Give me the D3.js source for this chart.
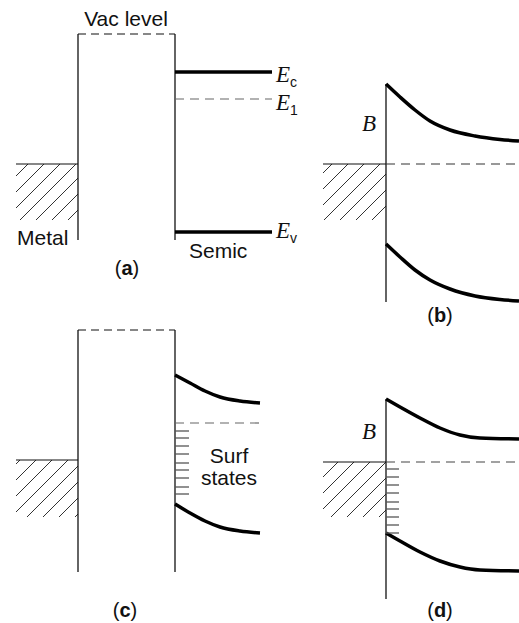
<!DOCTYPE html>
<html>
<head>
<meta charset="utf-8">
<script src="https://cdn.jsdelivr.net/npm/d3@7"></script>
<style>
  body { margin: 0; background: #fff; }
  text { font-family: "Liberation Sans", Arial, sans-serif; fill: #111; }
  .math { font-family: "Liberation Serif", "DejaVu Serif", serif; font-style: italic; }
</style>
</head>
<body>
<div id="chart"></div>
<script>
// Values, in figure units (x across, energy downward on the page)

// vertical walls: x, top, bottom
const walls = [
    [78, 34, 240], [175, 34, 240], [386, 84, 302],
    [78, 330, 572], [175, 330, 572], [386, 399, 599]
];
// vacuum level (dashed top of the gap): x0, x1, level
const vacLevels = [[78, 175, 34], [78, 175, 330]];
// metal: x0, x1, Fermi level, bottom of hatch
const metals = [[16, 78, 164, 220], [323, 386, 164, 220], [16, 78, 460, 517], [323, 386, 462, 517]];
// flat bands of panel (a): x0, x1, level
const flatBands = [[175, 272, 72], [175, 272, 232]];
// dashed levels (E1 and Fermi levels): x0, x1, level, tone
const dashedLevels = [[175, 272, 99, "#666"], [386, 519, 164, "#333"], [175, 260, 423, "#666"], [386, 519, 462, "#444"]];

// bent bands
const bandBc = [[386, 84], [400, 97], [415, 110], [430, 121], [450, 130], [475, 136], [500, 139.5], [519, 141]];
const bandBv = [[386, 244], [400, 257], [415, 270], [430, 280], [450, 289], [475, 296], [500, 299.5], [519, 301]];
const bandCc = [[175, 375], [190, 383], [205, 391], [220, 397], [240, 401], [260, 403]];
const bandCv = [[175, 504], [190, 513], [205, 521], [220, 527], [240, 531], [260, 533]];
const bandDc = [[386, 399], [400, 407], [420, 418], [440, 428], [460, 435], [480, 438], [519, 439]];
const bandDv = [[386, 533], [400, 541], [420, 552], [440, 561], [460, 567], [480, 570], [519, 571]];

// surface states: levels
const surfC = [431, 438, 446, 454, 463, 470, 478, 487, 494];
const surfD = [469, 477, 485, 493, 502, 509, 517, 525, 533];
const surfX = [[175, 189], [386, 399]];

const svgWidth = 519;
const svgHeight = 623;

const x = d3.scaleLinear().domain([0, 519]).range([0, svgWidth]);
const y = d3.scaleLinear().domain([0, 623]).range([0, svgHeight]);

const svg = d3.select("#chart").append("svg")
    .attr("width", svgWidth)
    .attr("height", svgHeight);

// hatch pattern for the filled metal states
const defs = svg.append("defs");
const pat = defs.append("pattern")
    .attr("id", "hatch")
    .attr("patternUnits", "userSpaceOnUse")
    .attr("width", 16)
    .attr("height", 16);
pat.append("path")
    .attr("d", "M0,16 L16,0 M-4,4 L4,-4 M12,20 L20,12")
    .attr("stroke", "#333")
    .attr("stroke-width", 1);

// metal blocks
svg.selectAll(".metal")
    .data(metals)
    .enter().append("rect")
    .attr("x", d => x(d[0]))
    .attr("y", d => y(d[2]))
    .attr("width", d => x(d[1]) - x(d[0]))
    .attr("height", d => y(d[3]) - y(d[2]))
    .attr("fill", "url(#hatch)");

svg.selectAll(".fermi")
    .data(metals)
    .enter().append("line")
    .attr("x1", d => x(d[0]))
    .attr("x2", d => x(d[1]))
    .attr("y1", d => y(d[2]))
    .attr("y2", d => y(d[2]))
    .attr("stroke", "#111")
    .attr("stroke-width", 1.2);

// walls
svg.selectAll(".wall")
    .data(walls)
    .enter().append("line")
    .attr("x1", d => x(d[0]))
    .attr("x2", d => x(d[0]))
    .attr("y1", d => y(d[1]))
    .attr("y2", d => y(d[2]))
    .attr("stroke", "#111")
    .attr("stroke-width", 1.3);

// vacuum level
svg.selectAll(".vac")
    .data(vacLevels)
    .enter().append("line")
    .attr("x1", d => x(d[0]))
    .attr("x2", d => x(d[1]))
    .attr("y1", d => y(d[2]))
    .attr("y2", d => y(d[2]))
    .attr("stroke", "#111")
    .attr("stroke-width", 1.2)
    .attr("stroke-dasharray", "8,5");

// dashed levels
svg.selectAll(".dash")
    .data(dashedLevels)
    .enter().append("line")
    .attr("x1", d => x(d[0]))
    .attr("x2", d => x(d[1]))
    .attr("y1", d => y(d[2]))
    .attr("y2", d => y(d[2]))
    .attr("stroke", d => d[3])
    .attr("stroke-width", 1.2)
    .attr("stroke-dasharray", "9,6");

// flat bands
svg.selectAll(".flat")
    .data(flatBands)
    .enter().append("line")
    .attr("x1", d => x(d[0]))
    .attr("x2", d => x(d[1]))
    .attr("y1", d => y(d[2]))
    .attr("y2", d => y(d[2]))
    .attr("stroke", "#000")
    .attr("stroke-width", 3.5);

// bent bands
const line = d3.line()
    .x(d => x(d[0]))
    .y(d => y(d[1]))
    .curve(d3.curveMonotoneX);

svg.selectAll(".band")
    .data([bandBc, bandBv, bandCc, bandCv, bandDc, bandDv])
    .enter().append("path")
    .attr("d", line)
    .attr("fill", "none")
    .attr("stroke", "#000")
    .attr("stroke-width", 3.5);

// surface states
[surfC, surfD].forEach((levels, i) => {
    svg.selectAll(".surf" + i)
        .data(levels)
        .enter().append("line")
        .attr("x1", x(surfX[i][0]))
        .attr("x2", x(surfX[i][1]))
        .attr("y1", d => y(d))
        .attr("y2", d => y(d))
        .attr("stroke", "#555")
        .attr("stroke-width", 1.3);
});

// labels
function label(t, px, py, anchor) {
    return svg.append("text")
        .attr("x", x(px))
        .attr("y", y(py))
        .attr("text-anchor", anchor || "start")
        .style("font-size", "21px")
        .text(t);
}
label("Vac level", 126, 26, "middle");
label("Metal", 17, 245);
label("Semic", 189, 258);
label("Surf", 229, 463, "middle");
label("states", 229, 485, "middle");

// panel letters
const panelLabels = [["a", 127, 275], ["b", 440, 322], ["c", 125, 617], ["d", 440, 617]];
panelLabels.forEach(p => {
    const t = svg.append("text")
        .attr("x", x(p[1]))
        .attr("y", y(p[2]))
        .attr("text-anchor", "middle")
        .style("font-size", "20px");
    t.append("tspan").text("(");
    t.append("tspan").style("font-weight", "bold").text(p[0]);
    t.append("tspan").text(")");
});

// energy level symbols
const energyLabels = [["c", 276, 82], ["1", 276, 110], ["v", 276, 238]];
energyLabels.forEach(p => {
    const t = svg.append("text")
        .attr("x", x(p[1]))
        .attr("y", y(p[2]))
        .style("font-size", "23px");
    t.append("tspan").attr("class", "math").text("E");
    t.append("tspan").attr("dy", 5).style("font-size", "14px").text(p[0]);
});

// barrier height
[131, 439].forEach(py => {
    svg.append("text")
        .attr("class", "math")
        .attr("x", x(362))
        .attr("y", y(py))
        .style("font-size", "23px")
        .text("B");
});
</script>
</body>
</html>
